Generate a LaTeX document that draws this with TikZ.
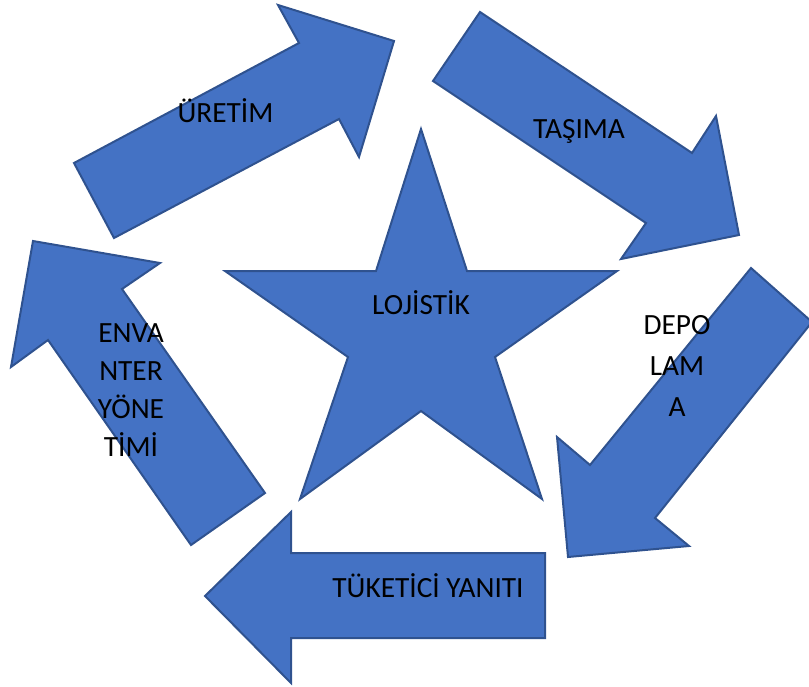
\documentclass[tikz,border=0pt]{standalone}
\usepackage{fontspec}
\setmainfont{Carlito}
\definecolor{shapefill}{HTML}{4472C4}
\definecolor{shapeline}{HTML}{2F528F}
\tikzset{
  blockshape/.style={fill=shapefill, draw=shapeline, line width=1.5pt, line join=miter},
  lbl/.style={font=\fontsize{22}{29}\selectfont, text=black, inner sep=0pt, align=center},
}
\begin{document}
\begin{tikzpicture}[x=0.75pt, y=-0.75pt]
\useasboundingbox (0,0) rectangle (809,686);

% central star
\path[blockshape] (421,129) -- (467,271) -- (617,271) -- (495,357) -- (542,499)
  -- (421,411) -- (300,499) -- (348,357) -- (225,271) -- (376,271) -- cycle;

% five block arrows around the star
\path[blockshape] (74,163) -- (299,43) -- (278,5) -- (394,41) -- (359,157) -- (339,119) -- (114,238) -- cycle;
\path[blockshape] (480,12) -- (692,153) -- (716,116) -- (739,235) -- (621,259) -- (646,223) -- (433,81) -- cycle;
\path[blockshape] (751,268) -- (812,322) -- (655,518) -- (689,546) -- (568,557) -- (557,437) -- (590,465) -- cycle;
\path[blockshape] (205,596) -- (291,512) -- (291,553) -- (545,553) -- (545,638) -- (291,638) -- (291,683) -- cycle;
\path[blockshape] (33,241) -- (160,263) -- (122,289) -- (265,493) -- (191,545) -- (48,340) -- (11,367) -- cycle;

% labels
\node[lbl] (uretim) at (225.5,110.5) {ÜRETİM};
\node[lbl] (tasima) at (579,131) {TAŞIMA};
\node[lbl] (lojistik) at (421,303) {LOJİSTİK};
\node[lbl] (tuketici) at (428,586) {TÜKETİCİ YANITI};
\node[lbl, font=\fontsize{22}{31}\selectfont] (depolama) at (677,366) {DEPO\\LAM\\A};
\node[lbl, font=\fontsize{22}{28.6}\selectfont] (envanter) at (131,390) {ENVA\\NTER\\YÖNE\\TİMİ};
\end{tikzpicture}
\end{document}
